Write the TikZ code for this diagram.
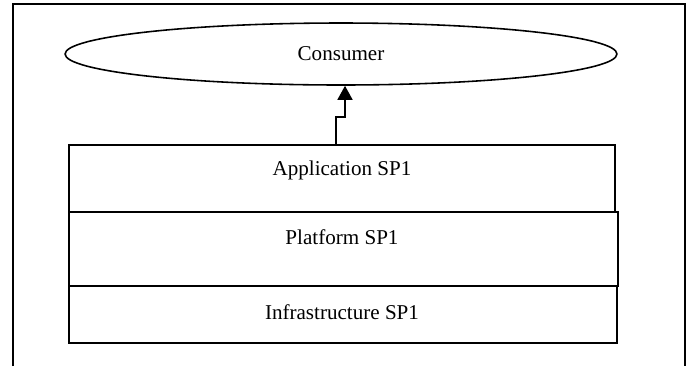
\documentclass[tikz,border=0pt]{standalone}
\usepackage{fontspec}
\setmainfont{Liberation Serif}
\usetikzlibrary{positioning,fit,shapes.geometric,arrows.meta}

\begin{document}
\begin{tikzpicture}[x=0.02cm,y=-0.02cm,font=\fontsize{12}{14}\selectfont,
	layer/.style={draw,line width=1.1pt,inner sep=0pt},
	user/.style={draw,ellipse,line width=0.9pt,inner sep=0pt,minimum width=11.04cm,minimum height=1.24cm},
	lbl/.style={anchor=base,inner sep=0pt},
	arr/.style={line width=1.1pt,-{Triangle[length=8pt,width=8.5pt]}}]
	\useasboundingbox (0,0) rectangle (688,366);
	% frame, open at the bottom
	\draw[line width=1.1pt] (13,366) -- (13,4) -- (685,4) -- (685,366);
	% consumer
	\node[user] (consumer) at (341,54) {Consumer};
	% layers
	\node[layer,fit={(69,145) (615,212)}] (app) {};
	\node[layer,fit={(69,212) (618,286)}] (plat) {};
	\node[layer,fit={(69,286) (617,343)}] (infra) {};
	\node[lbl] (apptxt) at (342,175) {Application SP1};
	\node[lbl] (plattxt) at (342,244) {Platform SP1};
	\node[lbl] (infratxt) at (342,319) {Infrastructure SP1};
	% link to consumer
	\coordinate (bend) at (345,117);
	\draw[arr] ([xshift=-0.12cm]app.north) |- (bend) -- ([xshift=0.08cm]consumer.south);
\end{tikzpicture}
\end{document}
